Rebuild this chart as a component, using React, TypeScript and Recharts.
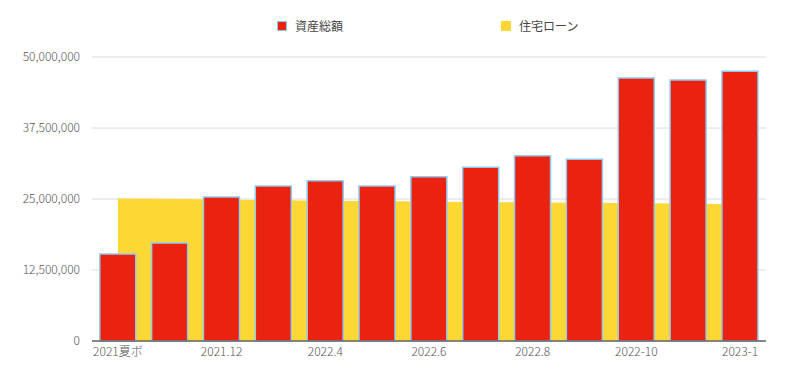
import React from 'react';
import { ComposedChart, Bar, Area, XAxis, YAxis, CartesianGrid, Legend } from 'recharts';

const months = [
    '2021夏ボ', '2021.10', '2021.12', '2022.2', '2022.4', '2022.5', '2022.6',
    '2022.7', '2022.8', '2022.9', '2022-10', '2022-12', '2023-1',
];
const assets = [
    15300000, 17250000, 25350000, 27300000, 28200000, 27300000, 28900000,
    30600000, 32600000, 32000000, 46300000, 45950000, 47500000,
];
const loan = [
    25000000, 24950000, 24800000, 24700000, 24600000, 24550000, 24450000,
    24350000, 24300000, 24250000, 24150000, 24100000, 24000000,
];
const yTicks = [0, 12500000, 25000000, 37500000, 50000000];

const data = months.map((m, i) => ({ name: m, assets: assets[i], loan: loan[i] }));

const FONT = '"Noto Sans CJK JP", "Noto Sans", sans-serif';

const LegendBox = () => (
    <div style={{ position: 'relative', height: 20, fontFamily: FONT, fontSize: 12, color: '#444' }}>
        <div style={{ position: 'absolute', left: 277, top: 0, display: 'flex', alignItems: 'center' }}>
            <span style={{ width: 8, height: 8, background: '#ec2210', border: '1px solid #8fcaf0', marginRight: 8 }} />
            <span>資産総額</span>
        </div>
        <div style={{ position: 'absolute', left: 501, top: 0, display: 'flex', alignItems: 'center' }}>
            <span style={{ width: 10, height: 10, background: '#fdd835', marginRight: 8 }} />
            <span>住宅ローン</span>
        </div>
    </div>
);

const App = () => {
    return (
        <div style={{ margin: -8, width: 800, height: 381, background: '#fff' }}>
            <ComposedChart
                width={800}
                height={381}
                data={data}
                margin={{ top: 37, right: 34, bottom: 10, left: 0 }}
                barCategoryGap="15%"
            >
                <CartesianGrid vertical={false} stroke="#dcdcdc" />
                <XAxis
                    dataKey="name"
                    interval={1}
                    height={30}
                    tickLine={false}
                    tickSize={0}
                    tickMargin={6}
                    axisLine={{ stroke: '#666', strokeWidth: 1.5 }}
                    tick={{ fill: '#555', fontSize: 12, fontFamily: FONT, fontWeight: 300 }}
                />
                <YAxis
                    width={92}
                    domain={[0, 50000000]}
                    ticks={yTicks}
                    axisLine={false}
                    tickLine={false}
                    tickSize={0}
                    tickMargin={12}
                    tickFormatter={(v: number) => v.toLocaleString('en-US')}
                    tick={{ fill: '#555', fontSize: 12, fontFamily: FONT, fontWeight: 300 }}
                />
                <Legend verticalAlign="top" content={<LegendBox />} wrapperStyle={{ top: 17, left: 0, width: 800 }} />
                <Area
                    type="linear"
                    dataKey="loan"
                    name="住宅ローン"
                    fill="#fdd835"
                    stroke="#fdd835"
                    fillOpacity={1}
                    isAnimationActive={false}
                />
                <Bar
                    dataKey="assets"
                    name="資産総額"
                    fill="#ec2210"
                    stroke="#8fcaf0"
                    strokeWidth={1.5}
                    isAnimationActive={false}
                />
            </ComposedChart>
        </div>
    );
};

export default App;
